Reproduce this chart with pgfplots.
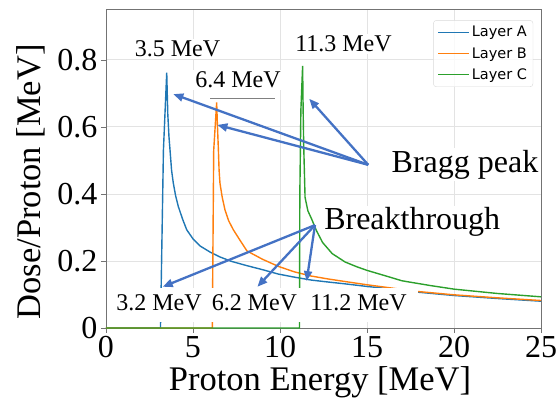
\documentclass[border=0pt]{standalone}
\usepackage{fontspec}
\setmainfont{Liberation Serif}
\newfontfamily\legendfont{DejaVu Sans}
\usepackage{pgfplots}
\pgfplotsset{compat=1.18}
\usetikzlibrary{arrows.meta}
\definecolor{layerA}{HTML}{1F77B4}
\definecolor{layerB}{HTML}{FF7F0E}
\definecolor{layerC}{HTML}{2CA02C}
\definecolor{arrowblue}{HTML}{4472C4}

\begin{document}
\begin{tikzpicture}
\begin{axis}[
  scale only axis, width=435pt, height=319pt,
  xmin=0, xmax=25, ymin=0, ymax=0.952,
  xtick={0,5,10,15,20,25}, ytick={0,0.2,0.4,0.6,0.8},
  xticklabels={0,5,10,15,20,25},
  yticklabels={0,0.2,0.4,0.6,0.8},
  /pgf/number format/assume math mode=true,
  tick label style={font=\rmfamily\fontsize{32}{32}\selectfont},
  xtick pos=bottom, ytick pos=left,
  tick align=outside, major tick length=5pt,
  tick style={black!55, line width=0.8pt},
  axis line style={black!55, line width=0.9pt},
  grid=major, major grid style={gray!22, line width=0.9pt},
  xlabel={Proton Energy [MeV]},
  ylabel={Dose/Proton [MeV]},
  label style={font=\rmfamily\fontsize{34.5}{34.5}\selectfont},
  xlabel style={at={(axis description cs:0.492,-0.170)}, anchor=center},
  ylabel style={at={(axis description cs:-0.172,0.458)}, anchor=center},
  clip=false,
  legend style={at={(rel axis cs:0.982,0.965)}, anchor=north east,
    font=\legendfont\fontsize{14.5}{14.5}\selectfont, draw=black!15, rounded corners=3pt,
    fill=white, fill opacity=0.8, text opacity=1, draw opacity=1, row sep=5pt,
    inner xsep=4pt, inner ysep=4pt, cells={anchor=west}},
  legend image code/.code={\draw[#1, line width=1.4pt] (0pt,0pt) -- (31pt,0pt);},
]
\addplot[layerA, line width=1.4pt] coordinates {
  (0,0) (3.13,0) (3.17,0.12) (3.30,0.53) (3.49,0.762) (3.55,0.64) (3.62,0.57)
  (3.68,0.531) (3.77,0.47) (3.87,0.432) (4.0,0.395) (4.16,0.362) (4.4,0.325)
  (4.64,0.293) (5.0,0.266) (5.4,0.245) (6.0,0.226) (6.55,0.212) (7.2,0.199)
  (8.1,0.186) (9.0,0.174) (9.9,0.161) (10.8,0.152) (11.8,0.143) (12.8,0.137)
  (13.7,0.132) (15.0,0.124) (16.3,0.117) (17.9,0.107) (20.0,0.097) (22.5,0.088)
  (25.0,0.080)};
\addlegendentry{Layer A}
\addplot[layerB, line width=1.4pt] coordinates {
  (0,0) (6.11,0) (6.14,0.2) (6.19,0.53) (6.36,0.673) (6.40,0.61) (6.46,0.531)
  (6.50,0.47) (6.55,0.432) (6.68,0.39) (6.84,0.352) (7.05,0.32) (7.32,0.293)
  (7.7,0.262) (8.1,0.230) (9.0,0.205) (9.9,0.184) (10.8,0.168) (11.8,0.155)
  (12.8,0.146) (13.7,0.139) (15.0,0.129) (16.3,0.120) (17.9,0.109) (20.0,0.099)
  (22.5,0.090) (25.0,0.082)};
\addlegendentry{Layer B}
\addplot[layerC, line width=1.4pt] coordinates {
  (0,0) (11.12,0) (11.14,0.4) (11.2,0.65) (11.3,0.782) (11.33,0.65) (11.36,0.55)
  (11.40,0.47) (11.44,0.39) (11.6,0.35) (11.82,0.325) (12.1,0.29) (12.45,0.255)
  (13.0,0.222) (13.74,0.197) (14.4,0.183) (15.0,0.172) (16.3,0.152) (17.0,0.141)
  (18.6,0.127) (20.0,0.116) (22.5,0.103) (25.0,0.093)};
\addlegendentry{Layer C}

% white patch behind the breakthrough energies
\fill[white] (axis cs:0.25,0.018) rectangle (axis cs:17.93,0.119);
\begin{scope}[font=\fontsize{24}{24}\selectfont]
  \node at (axis cs:3.05,0.075) {3.2 MeV};
  \node at (axis cs:8.53,0.075) {6.2 MeV};
  \node at (axis cs:14.51,0.075) {11.2 MeV};
  \node[fill=white, inner xsep=9pt, inner ysep=2pt] at (axis cs:4.11,0.833) {3.5 MeV};
  \node[fill=white, inner sep=2pt] at (axis cs:7.59,0.740) {6.4 MeV};
  \node[fill=white, inner sep=2pt] at (axis cs:13.65,0.848) {11.3 MeV};
\end{scope}
\draw[gray, line width=0.8pt] (axis cs:5.98,0.684) -- (axis cs:9.71,0.684);
\node[fill=white, inner sep=2pt, font=\fontsize{32}{32}\selectfont] at (axis cs:20.63,0.487) {Bragg peak};
\node[fill=white, inner sep=2pt, font=\fontsize{32}{32}\selectfont] at (axis cs:17.6,0.316) {Breakthrough};

\begin{scope}[arrowblue, line width=2.3pt, -{Triangle[length=10pt,width=8pt]}]
  \draw (axis cs:15.07,0.487) -- (axis cs:3.87,0.698);
  \draw (axis cs:15.07,0.487) -- (axis cs:6.40,0.606);
  \draw (axis cs:15.07,0.487) -- (axis cs:11.68,0.684);
  \draw (axis cs:12.01,0.307) -- (axis cs:3.26,0.123);
  \draw (axis cs:12.01,0.307) -- (axis cs:8.70,0.123);
  \draw (axis cs:12.01,0.307) -- (axis cs:11.53,0.140);
\end{scope}
\end{axis}
\pgfresetboundingbox
\path ([shift={(-106pt,-73pt)}]current axis.south west) rectangle ([shift={(18pt,9pt)}]current axis.north east);
\end{tikzpicture}
\end{document}
